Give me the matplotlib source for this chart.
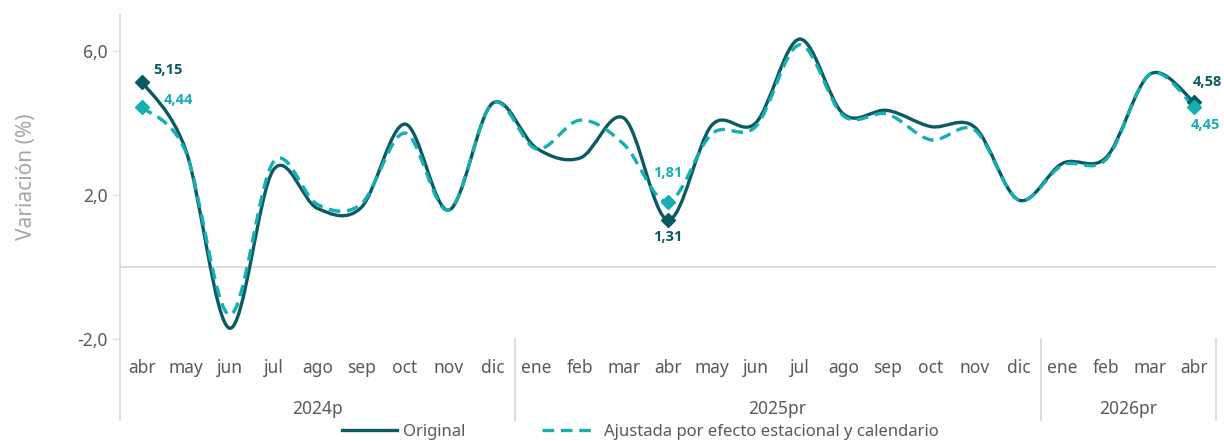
import numpy as np
import matplotlib
matplotlib.use('Agg')
import matplotlib.pyplot as plt
from matplotlib.path import Path
from matplotlib.patches import PathPatch
from matplotlib.lines import Line2D
import matplotlib.transforms as mtransforms

plt.rcParams['font.family'] = ['Noto Sans', 'DejaVu Sans']

# data
months = ['abr', 'may', 'jun', 'jul', 'ago', 'sep', 'oct', 'nov', 'dic',
          'ene', 'feb', 'mar', 'abr', 'may', 'jun', 'jul', 'ago', 'sep', 'oct', 'nov', 'dic',
          'ene', 'feb', 'mar', 'abr']
years = ['2024p', '2025pr', '2026pr']
year_sizes = [9, 12, 4]
original = [5.15, 3.25, -1.70, 2.70, 1.63, 1.65, 3.97, 1.58, 4.55,
            3.30, 3.03, 4.13, 1.31, 3.94, 4.00, 6.33, 4.25, 4.35, 3.90, 3.88, 1.86,
            2.88, 3.05, 5.36, 4.58]
adjusted = [4.44, 3.20, -1.33, 2.92, 1.74, 1.75, 3.72, 1.58, 4.55,
            3.28, 4.08, 3.40, 1.81, 3.70, 3.90, 6.17, 4.20, 4.25, 3.53, 3.80, 1.86,
            2.83, 3.00, 5.36, 4.45]
marked = [0, 12, 24]

c_orig = '#0B5A63'
c_adj = '#14AEB3'
c_text = '#595959'
c_axis = '#D9D9D9'


def smooth_path(x, y):
    # Excel-like smoothed line: cubic Bezier segments with Catmull-Rom control points
    pts = np.column_stack([x, y]).astype(float)
    n = len(pts)
    verts = [pts[0]]
    codes = [Path.MOVETO]
    for i in range(n - 1):
        p0 = pts[max(i - 1, 0)]
        p1 = pts[i]
        p2 = pts[i + 1]
        p3 = pts[min(i + 2, n - 1)]
        verts += [p1 + (p2 - p0) / 6, p2 - (p3 - p1) / 6, p2]
        codes += [Path.CURVE4] * 3
    return Path(verts, codes)


fig = plt.figure(figsize=(12.24, 4.41), dpi=100)
ax = fig.add_axes([120 / 1224, 1 - 339 / 441, (1216 - 120) / 1224, 324 / 441])

x = np.arange(len(months))
ax.add_patch(PathPatch(smooth_path(x, original), facecolor='none', edgecolor=c_orig,
                       lw=2.4, capstyle='round', zorder=3))
ax.add_patch(PathPatch(smooth_path(x, adjusted), facecolor='none', edgecolor=c_adj,
                       lw=2.4, linestyle=(0, (3.5, 2)), zorder=4))

orig_arr = np.array(original)
adj_arr = np.array(adjusted)
ax.plot(x[marked], orig_arr[marked], 'D', color=c_orig, ms=7, zorder=5, ls='none')
ax.plot(x[marked], adj_arr[marked], 'D', color=c_adj, ms=7, zorder=6, ls='none')

def fmt(v):
    return f'{v:.2f}'.replace('.', ',')

lab = dict(fontsize=10.5, fontweight='bold', family=['Open Sans', 'DejaVu Sans'],
           textcoords='offset pixels', va='center')
ax.annotate(fmt(original[0]), (0, original[0]), xytext=(11, 12), color=c_orig, ha='left', **lab)
ax.annotate(fmt(adjusted[0]), (0, adjusted[0]), xytext=(22, 7), color=c_adj, ha='left', **lab)
ax.annotate(fmt(adjusted[12]), (12, adjusted[12]), xytext=(0, 29), color=c_adj, ha='center', **lab)
ax.annotate(fmt(original[12]), (12, original[12]), xytext=(0, -17), color=c_orig, ha='center', **lab)
ax.annotate(fmt(original[24]), (24, original[24]), xytext=(13, 20), color=c_orig, ha='center', **lab)
ax.annotate(fmt(adjusted[24]), (24, adjusted[24]), xytext=(11, -18), color=c_adj, ha='center', **lab)

ax.axhline(0, color=c_axis, lw=1.3, zorder=1)

ax.set_xlim(-0.5, len(months) - 0.5)
ax.set_ylim(-2, 7)
ax.set_yticks([-2, 2, 6])
ax.set_yticklabels(['-2,0', '2,0', '6,0'])
ax.tick_params(axis='y', length=5, color=c_axis, labelsize=12.5, labelcolor=c_text, pad=4)
ax.set_xticks([])
ax.set_ylabel('Variación (%)', fontsize=15, color='#A6A6A6', labelpad=29)

for s in ['top', 'right', 'bottom']:
    ax.spines[s].set_visible(False)
ax.spines['left'].set_color(c_axis)
ax.spines['left'].set_linewidth(1.3)

# category axis with month and year rows
trans = mtransforms.blended_transform_factory(ax.transData, ax.transAxes)
for i, m in enumerate(months):
    ax.text(i, -0.088, m, transform=trans, ha='center', va='center',
            fontsize=12.5, color=c_text)
start = 0
seps = [-0.5]
for yl, n in zip(years, year_sizes):
    ax.text(start + (n - 1) / 2, -0.215, yl, transform=trans, ha='center', va='center',
            fontsize=12.5, color=c_text)
    start += n
    seps.append(start - 0.5)
for s in seps:
    ax.plot([s, s], [0, -0.25], transform=trans, color=c_axis, lw=1.3, clip_on=False)

handles = [Line2D([], [], color=c_orig, lw=2.4),
           Line2D([], [], color=c_adj, lw=2.4, linestyle=(0, (3.5, 2)))]
fig.legend(handles, ['Original', 'Ajustada por efecto estacional y calendario'],
           loc='center', bbox_to_anchor=(0.523, 0.02), ncol=2, frameon=False,
           fontsize=12, labelcolor=c_text, handlelength=3.3, handletextpad=0.4,
           columnspacing=4.6)

fig.savefig('out.png', dpi=100)
